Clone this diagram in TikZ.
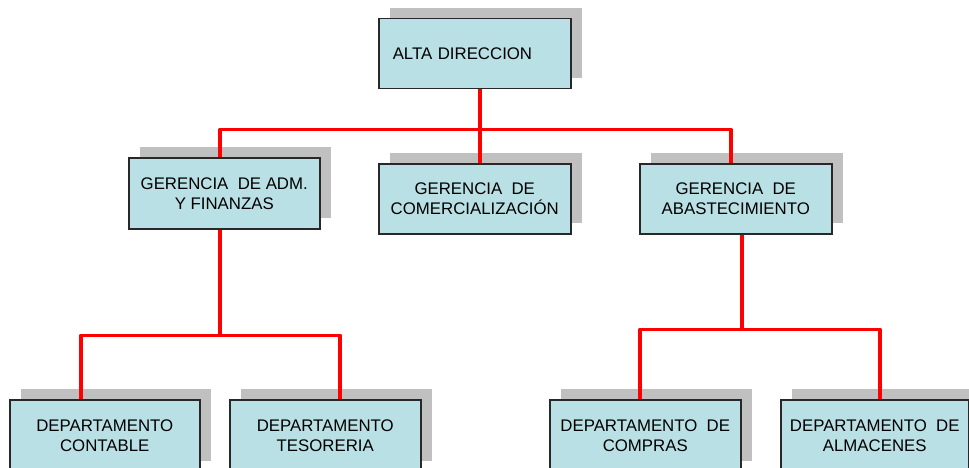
\documentclass[tikz,border=0pt]{standalone}
\usepackage{fontspec}
\setmainfont{Liberation Sans}
\usetikzlibrary{shadows}

\definecolor{cajafondo}{RGB}{185,224,228}
\definecolor{cajaborde}{RGB}{40,40,40}
\definecolor{sombra}{RGB}{192,192,192}

\tikzset{
  cargo/.style={draw=cajaborde,line width=1.5pt,fill=cajafondo,anchor=north west,
    align=center,inner sep=0pt,minimum height=70pt,
    font=\fontsize{16.8}{20}\selectfont,
    drop shadow={shadow xshift=11pt,shadow yshift=11pt,fill=sombra,opacity=1}},
  linea/.style={red,line width=3.6pt,line join=round}
}

\begin{document}
\begin{tikzpicture}[x=1pt,y=-1pt]
\useasboundingbox (0,0) rectangle (969,468);
\clip (0,0) rectangle (969,468);
% nivel 1
\node[cargo,minimum width=192pt,align=left,text width=164pt] (alta) at (378,18) {ALTA DIRECCION};
% nivel 2
\node[cargo,minimum width=191pt,minimum height=71pt] (adm) at (128,157) {GERENCIA \ DE ADM.\\Y FINANZAS};
\node[cargo,minimum width=192pt] (com) at (378,163) {GERENCIA \ DE\\COMERCIALIZACIÓN};
\node[cargo,minimum width=192pt] (abas) at (639,163) {GERENCIA \ DE\\ABASTECIMIENTO};
% nivel 3
\node[cargo,minimum width=190pt,minimum height=72pt] (cont) at (9,399) {DEPARTAMENTO\\CONTABLE};
\node[cargo,minimum width=191pt,minimum height=72pt] (teso) at (229,399) {DEPARTAMENTO\\TESORERIA};
\node[cargo,minimum width=191pt,minimum height=72pt] (comp) at (549,399) {DEPARTAMENTO \ DE\\COMPRAS};
\node[cargo,minimum width=188pt,minimum height=72pt] (alma) at (780,399) {DEPARTAMENTO \ DE\\ALMACENES};

% conectores
\draw[linea] ([xshift=5pt]alta.south) -- ++(0,40) coordinate (barra1);
\draw[linea] ([xshift=-4pt]adm.north) |- (barra1) -| ([xshift=-5pt]abas.north);
\draw[linea] (barra1) -- ([xshift=5pt]com.north);
\draw[linea] ([xshift=-4pt]adm.south) -- ++(0,106) coordinate (barra2);
\draw[linea] ([xshift=-24pt]cont.north) |- (barra2) -| ([xshift=15pt]teso.north);
\draw[linea] ([xshift=6pt]abas.south) -- ++(0,95) coordinate (barra3);
\draw[linea] ([xshift=-5pt]comp.north) |- (barra3) -| ([xshift=5pt]alma.north);
\end{tikzpicture}
\end{document}
